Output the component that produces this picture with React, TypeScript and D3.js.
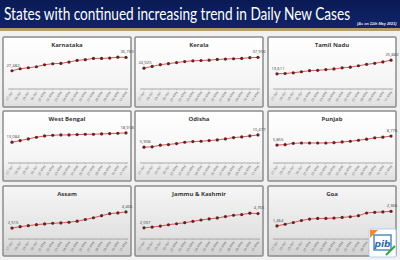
import React, { useLayoutEffect, useRef, useState } from 'react';
import * as d3 from 'd3';

const states = ['Karnataka', 'Kerala', 'Tamil Nadu', 'West Bengal', 'Odisha', 'Punjab', 'Assam', 'Jammu & Kashmir', 'Goa'];
const dates = ['27-Apr', '28-Apr', '29-Apr', '30-Apr', '01-May', '02-May', '03-May', '04-May', '05-May', '06-May', '07-May', '08-May', '09-May', '10-May', '11-May'];

const karnataka = [27482, 28875, 29572, 30268, 31661, 32358, 32590, 33519, 34679, 35144, 36072, 36072, 36305, 36900, 36769];
const kerala = [24925, 27019, 29112, 30369, 31625, 32881, 33719, 34137, 34556, 35394, 35812, 36231, 36650, 37487, 37906];
const tamilNadu = [13611, 13926, 14555, 15499, 16443, 16757, 17387, 18016, 18960, 19589, 20848, 22106, 23050, 24309, 25882];
const westBengal = [13084, 14126, 15168, 16209, 17043, 17460, 17668, 17668, 17876, 18085, 18085, 18293, 18501, 18710, 18918];
const odisha = [5908, 6031, 6649, 6896, 7266, 7760, 8007, 8131, 8378, 8625, 8995, 9489, 9736, 10107, 10477];
const punjab = [5855, 5967, 6417, 6529, 6529, 6529, 6529, 6641, 6866, 7091, 7428, 7765, 8214, 8439, 8776];
const assam = [2515, 2681, 2806, 2930, 3013, 3096, 3138, 3221, 3345, 3553, 3760, 4009, 4258, 4341, 4466];
const jammuKashmir = [2097, 2224, 2415, 2669, 2859, 3050, 3304, 3558, 3749, 3939, 4193, 4447, 4574, 4828, 4765];
const goa = [1464, 1569, 1674, 1800, 1884, 1925, 1925, 1946, 1988, 2030, 2093, 2261, 2303, 2324, 2366];

const seriesList = [karnataka, kerala, tamilNadu, westBengal, odisha, punjab, assam, jammuKashmir, goa];
const axisMin = [14800, 0, 0, 0, 0, 0, 1200, 0, 660];
const axisMax = [41200, 45500, 34100, 23900, 14200, 12400, 5900, 7300, 3060];

const titleText = 'States with continued increasing trend in Daily New Cases';

const W = 400;
const H = 260;
const colX = [3, 135, 268];
const rowY = [37, 111, 186];
const PW = 128;
const PH = 70;
const TITLE_W = 346;
const fmt = d3.format(',');

function Panel({ idx }: { idx: number }) {
  const col = idx % 3;
  const row = Math.floor(idx / 3);
  const data = seriesList[idx];
  const x = d3.scalePoint<string>().domain(dates).range([9, 123]);
  const axisY = row === 2 ? 53 : 52;
  const y = d3.scaleLinear().domain([axisMin[idx], axisMax[idx]]).range([axisY, 14]);
  const line = d3
    .line<number>()
    .x((_, i) => x(dates[i]) as number)
    .y((d) => y(d));
  const first = data[0];
  const last = data[data.length - 1];
  return (
    <g transform={`translate(${colX[col]},${rowY[row]})`}>
      <rect x={0} y={0} width={PW} height={PH} fill={row === 2 ? 'url(#pg3)' : 'url(#pg)'} stroke="#8c8c8c" strokeWidth={1.5} rx={1} />
      <text x={PW / 2} y={10} textAnchor="middle" fontFamily="Open Sans, sans-serif" fontWeight={700} fontSize={6} fill="#3a3a3a">
        {states[idx]}
      </text>
      <line x1={5} x2={125} y1={axisY} y2={axisY} stroke="#9a9a9a" strokeWidth={0.8} />
      {dates.map((d) => (
        <g key={d}>
          <line x1={x(d)} x2={x(d)} y1={axisY} y2={axisY + 1.2} stroke="#9a9a9a" strokeWidth={0.5} />
          <text
            transform={`translate(${(x(d) as number) + 1},${axisY + 3}) rotate(-60)`}
            textAnchor="end"
            fontFamily="Open Sans, sans-serif"
            fontSize={3.3}
            fill="#6a6a6a"
          >
            {d}
          </text>
        </g>
      ))}
      <path d={line(data) || ''} fill="none" stroke="#d05a5a" strokeWidth={1} />
      {data.map((v, i) => (
        <circle key={i} cx={x(dates[i])} cy={y(v)} r={1.6} fill="#6b1f22" />
      ))}
      <text x={(x(dates[0]) as number) + 1} y={y(first) - 4} textAnchor="middle" fontFamily="Open Sans, sans-serif" fontSize={4.2} fill="#444">
        {fmt(first)}
      </text>
      <text x={(x(dates[dates.length - 1]) as number) + 1} y={y(d3.max(data.slice(-2)) as number) - 4} textAnchor="middle" fontFamily="Open Sans, sans-serif" fontSize={4.2} fill="#444">
        {fmt(last)}
      </text>
    </g>
  );
}

export default function App() {
  const titleRef = useRef<SVGTextElement>(null);
  const [sx, setSx] = useState(0.8);
  useLayoutEffect(() => {
    if (titleRef.current) {
      const w = titleRef.current.getComputedTextLength();
      if (w > 0) setSx(TITLE_W / w);
    }
  }, []);
  return (
    <svg width={W} height={H} style={{ position: 'fixed', left: 0, top: 0 }} xmlns="http://www.w3.org/2000/svg">
      <defs>
        <linearGradient id="pg" x1="0" y1="0" x2="0" y2="1">
          <stop offset="0" stopColor="#ffffff" />
          <stop offset="0.7" stopColor="#f4f4f4" />
          <stop offset="1" stopColor="#dedede" />
        </linearGradient>
        <linearGradient id="pg3" x1="0" y1="0" x2="0" y2="1">
          <stop offset="0" stopColor="#f6f6f6" />
          <stop offset="0.7" stopColor="#e2e2e2" />
          <stop offset="1" stopColor="#d0d0d0" />
        </linearGradient>
        <linearGradient id="bar" x1="0" y1="0" x2="0" y2="1">
          <stop offset="0" stopColor="#0a1a55" />
          <stop offset="1" stopColor="#0f2468" />
        </linearGradient>
      </defs>
      <rect x={0} y={0} width={W} height={H} fill="#f1f1f1" />
      <rect x={0} y={0} width={W} height={28} fill="url(#bar)" />
      <rect x={0} y={28} width={W} height={3} fill="#b0a264" />
      <g transform={`translate(4,19.5) scale(${sx},1)`}>
        <text ref={titleRef} x={0} y={0} fontFamily="Lato, 'Open Sans', sans-serif" fontSize={17.5} fill="#ffffff">
          {titleText}
        </text>
      </g>
      <text x={357} y={24.5} fontFamily="'Liberation Sans Narrow', 'Liberation Sans', sans-serif" fontStyle="italic" fontWeight={700} fontSize={3.8} fill="#e6e6f2">
        (As on 11th May 2021)
      </text>
      {states.map((_, i) => (
        <Panel key={i} idx={i} />
      ))}
      <g transform="translate(369,229)">
        <rect x={0} y={0} width={27} height={28} fill="#ffffff" stroke="#a8c6e6" strokeWidth={0.8} rx={1.5} />
        <path d="M1,1 L9,1 L1,9 Z" fill="#f08a24" />
        <rect x={5} y={6} width={17} height={15} fill="none" stroke="#2a6db5" strokeWidth={1.2} />
        <text x={13.5} y={18} textAnchor="middle" fontFamily="DejaVu Sans, sans-serif" fontWeight={700} fontStyle="italic" fontSize={9} fill="#2a6db5">pib</text>
        <path d="M17,26 L26,17" stroke="#3aa346" strokeWidth={2.2} />
      </g>
    </svg>
  );
}
